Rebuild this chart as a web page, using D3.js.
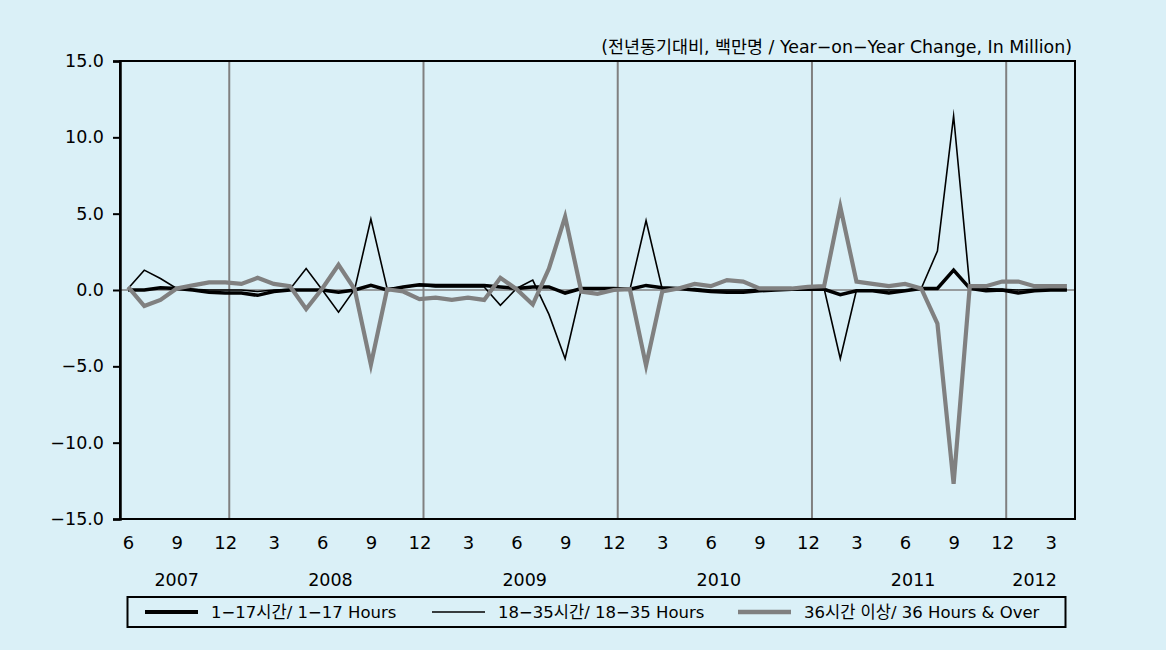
<!DOCTYPE html>
<html><head><meta charset="utf-8">
<script src="https://cdn.jsdelivr.net/npm/d3@7"></script>
<style>
body{margin:0;background:#DAF0F7;}
svg{display:block;}
text{font-family:"DejaVu Sans","Noto Sans CJK KR",sans-serif;fill:#000;}
</style></head>
<body>
<svg id="chart" width="1166" height="650"></svg>
<script>
const categories = [
 "2007-06","2007-07","2007-08","2007-09","2007-10","2007-11","2007-12",
 "2008-01","2008-02","2008-03","2008-04","2008-05","2008-06","2008-07","2008-08","2008-09","2008-10","2008-11","2008-12",
 "2009-01","2009-02","2009-03","2009-04","2009-05","2009-06","2009-07","2009-08","2009-09","2009-10","2009-11","2009-12",
 "2010-01","2010-02","2010-03","2010-04","2010-05","2010-06","2010-07","2010-08","2010-09","2010-10","2010-11","2010-12",
 "2011-01","2011-02","2011-03","2011-04","2011-05","2011-06","2011-07","2011-08","2011-09","2011-10","2011-11","2011-12",
 "2012-01","2012-02","2012-03","2012-04"
];
const hours1to17 = [
 0.0,0.0,0.15,0.1,0.0,-0.15,-0.2,-0.2,-0.35,-0.1,
 0.0,0.0,0.0,-0.15,0.0,0.3,0.0,0.2,0.35,0.3,
 0.3,0.3,0.3,0.2,0.1,0.2,0.2,-0.2,0.1,0.1,
 0.1,0.05,0.3,0.15,0.1,0.0,-0.1,-0.15,-0.15,-0.05,
 0.0,0.05,0.05,0.05,-0.3,-0.05,-0.05,-0.2,-0.05,0.1,
 0.1,1.3,0.1,-0.05,0.0,-0.2,-0.05,0.0,0.0
];
const hours18to35 = [
 0.1,1.3,0.75,0.1,0.05,0.0,0.0,0.0,-0.1,0.0,
 0.05,1.4,0.0,-1.45,0.05,4.65,0.1,0.2,0.3,0.2,
 0.2,0.2,0.2,-1.0,0.1,0.65,-1.6,-4.5,0.05,0.1,
 0.1,0.0,4.55,0.05,0.05,0.1,0.0,0.0,0.0,0.05,
 0.05,0.1,0.1,0.1,-4.5,0.0,0.0,0.0,0.0,0.1,
 2.55,11.4,0.2,0.1,0.05,0.0,0.05,0.05,0.05
];
const hours36over = [
 0.2,-1.05,-0.65,0.1,0.3,0.5,0.5,0.4,0.8,0.4,
 0.25,-1.25,0.1,1.65,0.05,-4.9,0.05,-0.1,-0.6,-0.5,
 -0.65,-0.5,-0.65,0.8,0.05,-0.95,1.4,4.8,-0.1,-0.25,
 0.0,0.05,-4.95,-0.1,0.1,0.4,0.25,0.65,0.55,0.1,
 0.1,0.1,0.2,0.25,5.45,0.55,0.4,0.25,0.4,0.1,
 -2.2,-12.7,0.25,0.25,0.55,0.55,0.25,0.25,0.25
];
const yTicks = [-15,-10,-5,0,5,10,15];
const tickMonths = [3,6,9,12];
const lastLabelledMonth = "2012-03";
const seriesNames = ["1−17시간/ 1−17 Hours","18−35시간/ 18−35 Hours","36시간 이상/ 36 Hours & Over"];
const unitLabel = "(전년동기대비, 백만명 / Year−on−Year Change, In Million)";

const series = [
  {name: seriesNames[1], values: hours18to35, color:"#000", width:1.6},
  {name: seriesNames[0], values: hours1to17, color:"#000", width:3.5},
  {name: seriesNames[2], values: hours36over, color:"#808080", width:4.2}
];

const svg = d3.select("#chart");
const L = 120, R = 1075, T = 61, B = 519;

const x = d3.scalePoint().domain(categories).range([L, R]).padding(0.5);
const y = d3.scaleLinear().domain([-15, 15]).range([B, T]);
const step = x.step();

// unit label
svg.append("text").attr("x", 1072).attr("y", 53).attr("text-anchor","end")
  .style("font-size","17.4px").text(unitLabel);

// zero line
svg.append("line").attr("x1", L).attr("x2", R).attr("y1", y(0)).attr("y2", y(0))
  .attr("stroke","#808080").attr("stroke-width",1.6);

// year separators (December)
const decs = categories.filter(c => c.endsWith("-12"));
svg.selectAll("line.grid").data(decs).join("line").attr("class","grid")
  .attr("x1", d => x(d) + step*0.25).attr("x2", d => x(d) + step*0.25)
  .attr("y1", T).attr("y2", B)
  .attr("stroke","#808080").attr("stroke-width",2);

// series lines
const line = d3.line().x((d,i) => x(categories[i])).y(d => y(d));
series.forEach(s => {
  svg.append("path").datum(s.values).attr("d", line)
    .attr("fill","none").attr("stroke", s.color).attr("stroke-width", s.width)
    .attr("stroke-linejoin","miter").attr("stroke-miterlimit",10);
});

// frame
svg.append("rect").attr("x", L).attr("y", T).attr("width", R-L).attr("height", B-T)
  .attr("fill","none").attr("stroke","#000").attr("stroke-width",2);

// y axis
const yAxis = d3.axisLeft(y).tickValues(yTicks).tickFormat(d3.format(".1f")).tickSize(7).tickPadding(9);
const ya = svg.append("g").attr("transform",`translate(${L},0)`).call(yAxis);
ya.select(".domain").attr("stroke","#000").attr("stroke-width",2.5);
ya.selectAll(".tick line").attr("stroke","#000").attr("stroke-width",2);
ya.selectAll(".tick text").style("font-size","17.5px").attr("fill","#000")
  .style("font-family",'"DejaVu Sans",sans-serif');

// x tick labels
const tickCats = categories.filter(c => tickMonths.includes(+c.slice(5)));
const xAxis = d3.axisBottom(x).tickValues(tickCats).tickFormat(c => +c.slice(5)).tickSize(0).tickPadding(17);
const xa = svg.append("g").attr("transform",`translate(0,${B})`).call(xAxis);
xa.select(".domain").remove();
xa.selectAll(".tick text").style("font-size","18px").attr("fill","#000")
  .style("font-family",'"DejaVu Sans",sans-serif');

// year labels
const lastIdx = categories.indexOf(lastLabelledMonth);
const years = Array.from(new Set(categories.map(c => c.slice(0,4))));
years.forEach(yr => {
  const idxs = categories.map((c,i)=>[c,i]).filter(([c,i]) => c.startsWith(yr) && i <= lastIdx).map(d=>d[1]);
  const cx = (x(categories[idxs[0]]) + x(categories[idxs[idxs.length-1]])) / 2;
  svg.append("text").attr("x", cx).attr("y", 586).attr("text-anchor","middle")
    .style("font-size","17.5px").text(yr);
});

// legend
const lg = svg.append("g");
lg.append("rect").attr("x",127.5).attr("y",597).attr("width",938).attr("height",30)
  .attr("fill","none").attr("stroke","#000").attr("stroke-width",2);
const legendItems = [
  {name: seriesNames[0], color:"#000", width:4, x0:145},
  {name: seriesNames[1], color:"#000", width:1.6, x0:432},
  {name: seriesNames[2], color:"#808080", width:4.5, x0:738}
];
legendItems.forEach(it => {
  lg.append("line").attr("x1", it.x0).attr("x2", it.x0+53).attr("y1",612).attr("y2",612)
    .attr("stroke", it.color).attr("stroke-width", it.width);
  lg.append("text").attr("x", it.x0+66).attr("y", 618).style("font-size","16.5px").text(it.name);
});
</script>
</body></html>
